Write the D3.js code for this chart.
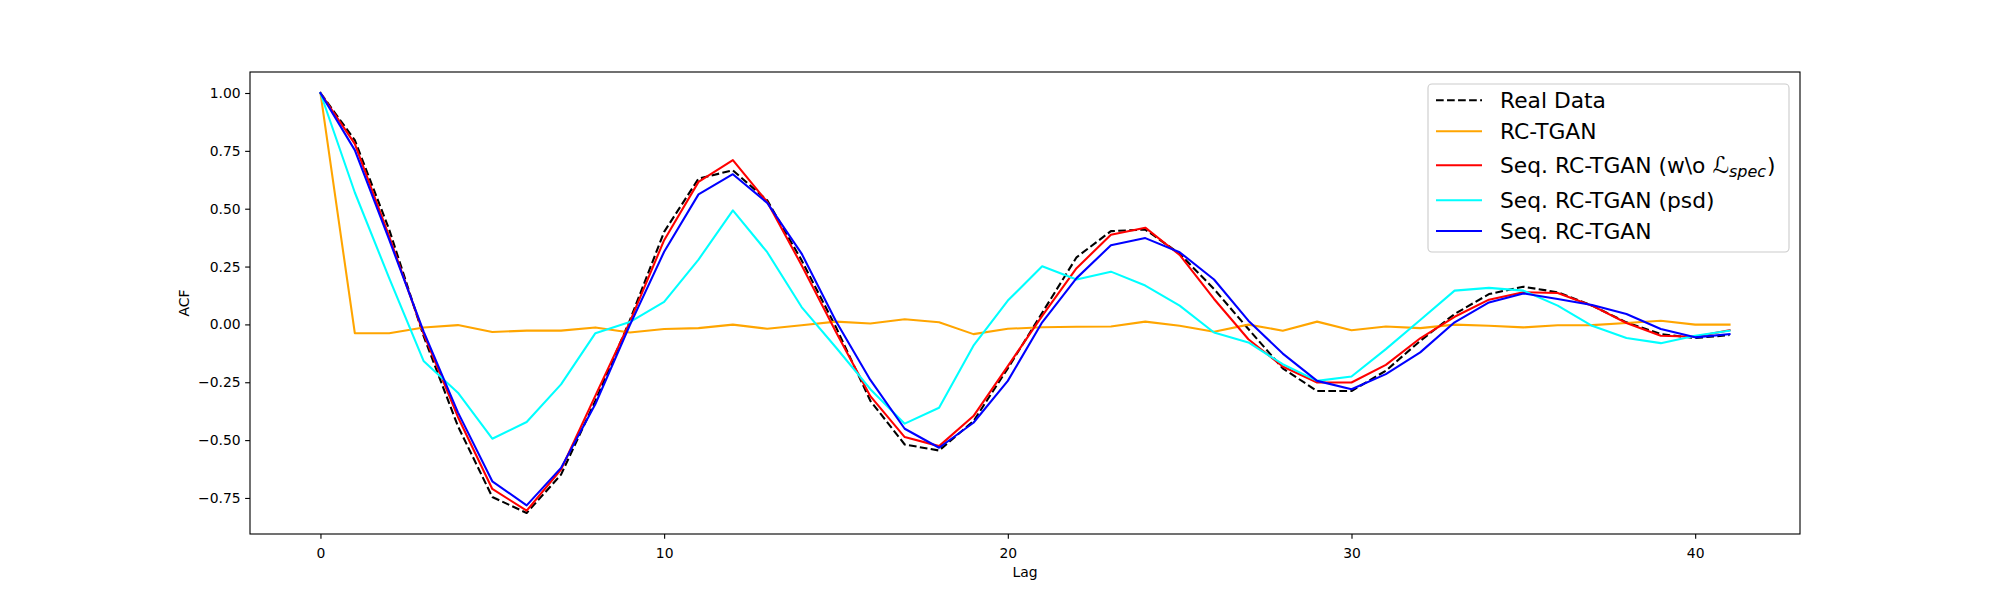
<!DOCTYPE html>
<html>
<head>
<meta charset="utf-8">
<script src="https://cdn.jsdelivr.net/npm/d3@7"></script>
<style>
  html, body { margin: 0; padding: 0; background: #fff; }
  svg { display: block; font-family: "DejaVu Sans", sans-serif; }
</style>
</head>
<body>
<svg id="chart" width="2000" height="600"></svg>
<script>
const lags = [0,1,2,3,4,5,6,7,8,9,10,11,12,13,14,15,16,17,18,19,20,21,22,23,24,25,26,27,28,29,30,31,32,33,34,35,36,37,38,39,40,41];

const realData = [1.0,0.796,0.41,-0.05,-0.44,-0.746,-0.815,-0.649,-0.33,0.017,0.40,0.63,0.666,0.536,0.277,-0.012,-0.33,-0.519,-0.545,-0.418,-0.19,0.05,0.29,0.403,0.41,0.305,0.153,-0.02,-0.19,-0.288,-0.288,-0.2,-0.071,0.045,0.131,0.163,0.139,0.081,0.009,-0.042,-0.059,-0.046];

const rcTgan = [1.0,-0.038,-0.038,-0.013,-0.003,-0.033,-0.027,-0.027,-0.013,-0.035,-0.02,-0.016,-0.001,-0.019,-0.004,0.012,0.004,0.022,0.009,-0.042,-0.019,-0.012,-0.01,-0.009,0.012,-0.006,-0.032,-0.001,-0.027,0.012,-0.025,-0.009,-0.016,-0.001,-0.006,-0.013,-0.004,-0.003,0.006,0.016,-0.001,-0.001];

const seqNoSpec = [1.0,0.78,0.38,-0.04,-0.40,-0.711,-0.805,-0.627,-0.308,0.01,0.364,0.616,0.71,0.529,0.256,-0.033,-0.31,-0.487,-0.526,-0.396,-0.18,0.037,0.243,0.387,0.418,0.30,0.11,-0.064,-0.182,-0.251,-0.251,-0.175,-0.06,0.033,0.107,0.139,0.136,0.081,0.006,-0.049,-0.053,-0.025];

const seqPsd = [1.0,0.57,0.2,-0.158,-0.295,-0.494,-0.422,-0.259,-0.038,0.01,0.097,0.28,0.493,0.312,0.075,-0.1,-0.28,-0.429,-0.36,-0.092,0.103,0.251,0.194,0.228,0.168,0.081,-0.035,-0.078,-0.172,-0.244,-0.225,-0.107,0.019,0.146,0.158,0.146,0.081,-0.006,-0.059,-0.081,-0.049,-0.027];

const seqRcTgan = [1.0,0.753,0.366,-0.03,-0.38,-0.678,-0.782,-0.62,-0.344,-0.004,0.314,0.562,0.649,0.525,0.306,0.014,-0.24,-0.451,-0.533,-0.425,-0.244,0.009,0.2,0.342,0.373,0.312,0.194,0.016,-0.126,-0.244,-0.28,-0.215,-0.121,0.009,0.095,0.134,0.11,0.084,0.045,-0.02,-0.056,-0.042];

const xTicks = [0,10,20,30,40];
const yTicks = [-0.75,-0.5,-0.25,0,0.25,0.5,0.75,1.0];

const seriesNames = ["Real Data","RC-TGAN","Seq. RC-TGAN (w\\o ","Seq. RC-TGAN (psd)","Seq. RC-TGAN"];
const seriesColors = ["#000000","#ffa500","#ff0000","#00ffff","#0000ff"];
const seriesData = [realData, rcTgan, seqNoSpec, seqPsd, seqRcTgan];

const xLabel = "Lag";
const yLabel = "ACF";

(function draw() {
  const pL = 250, pR = 1800, pT = 72, pB = 534;
  const svg = d3.select("#chart");
  svg.append("rect").attr("width",2000).attr("height",600).attr("fill","#fff");

  const xMin = d3.min(lags), xMax = d3.max(lags);
  const allY = seriesData.flat();
  const yMin = d3.min(allY), yMax = d3.max(allY);
  const xPad = (xMax - xMin) * 0.05, yPad = (yMax - yMin) * 0.05;

  const x = d3.scaleLinear().domain([xMin - xPad, xMax + xPad]).range([pL, pR]);
  const y = d3.scaleLinear().domain([yMin - yPad, yMax + yPad]).range([pB, pT]);

  const fmtY = v => d3.format(".2f")(v).replace("-", "\u2212");

  const xAxis = d3.axisBottom(x).tickValues(xTicks).tickSize(4.86).tickPadding(4.5).tickFormat(d3.format("d"));
  const yAxis = d3.axisLeft(y).tickValues(yTicks).tickSize(4.86).tickPadding(4.5).tickFormat(fmtY);

  const gx = svg.append("g").attr("transform", `translate(0,${pB})`).call(xAxis);
  const gy = svg.append("g").attr("transform", `translate(${pL},0)`).call(yAxis);
  [gx, gy].forEach(g => {
    g.select(".domain").remove();
    g.selectAll(".tick line").attr("stroke","#000").attr("stroke-width",1.11);
    g.selectAll(".tick text").attr("fill","#000").attr("font-size","13.9px").attr("font-family","DejaVu Sans");
  });
  gx.selectAll(".tick text").attr("dy", null).attr("y", 24);

  svg.append("clipPath").attr("id","clip").append("rect")
    .attr("x", pL).attr("y", pT).attr("width", pR-pL).attr("height", pB-pT);

  const line = d3.line().x((d,i) => x(lags[i])).y(d => y(d));
  const plot = svg.append("g").attr("clip-path","url(#clip)");
  seriesData.forEach((data, k) => {
    plot.append("path")
      .datum(data)
      .attr("d", line)
      .attr("fill","none")
      .attr("stroke", seriesColors[k])
      .attr("stroke-width", 2.08)
      .attr("stroke-linejoin","round")
      .attr("stroke-linecap", k === 0 ? "butt" : "square")
      .attr("stroke-dasharray", k === 0 ? "7.7,3.33" : null);
  });

  svg.append("rect").attr("x",pL).attr("y",pT).attr("width",pR-pL).attr("height",pB-pT)
    .attr("fill","none").attr("stroke","#000").attr("stroke-width",1.11);

  svg.append("text").attr("x",(pL+pR)/2).attr("y",577).attr("text-anchor","middle")
    .attr("font-size","13.9px").attr("fill","#000").text(xLabel);
  svg.append("text").attr("transform",`translate(189,${(pT+pB)/2}) rotate(-90)`)
    .attr("text-anchor","middle").attr("font-size","13.9px").attr("fill","#000").text(yLabel);

  const lg = svg.append("g");
  lg.append("rect").attr("x",1428).attr("y",84).attr("width",361).attr("height",168).attr("rx",4)
    .attr("fill","#fff").attr("fill-opacity",0.8).attr("stroke","#cccccc").attr("stroke-width",1.11);
  const rowY = [100.3, 131.3, 165.3, 200.3, 231.0];
  seriesNames.forEach((name, k) => {
    lg.append("line").attr("x1",1436).attr("x2",1482).attr("y1",rowY[k]).attr("y2",rowY[k])
      .attr("stroke",seriesColors[k]).attr("stroke-width",2.08)
      .attr("stroke-dasharray", k === 0 ? "7.7,3.33" : null);
    const t = lg.append("text").attr("x",1500).attr("y",rowY[k]+7.6)
      .attr("font-size","21.8px").attr("fill","#000");
    if (k === 2) {
      t.append("tspan").text(name);
      t.append("tspan").attr("font-style","italic").attr("font-family","DejaVu Serif, DejaVu Sans").attr("font-size","23px").text("\u2112");
      t.append("tspan").attr("font-style","italic").attr("font-size","16px").attr("dy",4.5).text("spec");
      t.append("tspan").attr("dy",-4.5).attr("dx",1).text(")");
    } else {
      t.text(name);
    }
  });
})();
</script>
</body>
</html>
